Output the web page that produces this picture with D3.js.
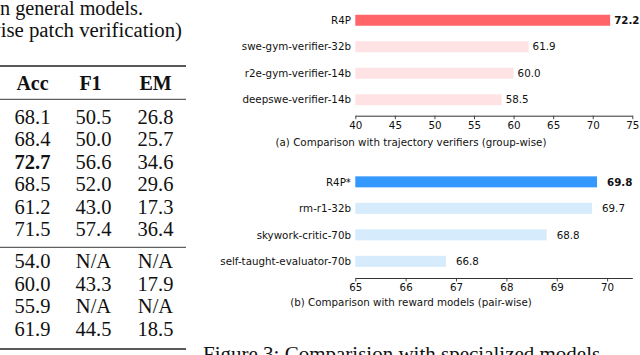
<!DOCTYPE html>
<html>
<head>
<meta charset="utf-8">
<script src="https://cdn.jsdelivr.net/npm/d3@7"></script>
<style>
  body { margin: 0; background: #fff; }
  svg { display: block; }
</style>
</head>
<body>
<div id="chart"></div>
<script>
const width = 640;
const height = 355;

// data
const introLines = ["n general models.", "wise patch verification)"];
const tableHeader = ["Acc", "F1", "EM"];
const tableRowsTop = [
  ["68.1", "50.5", "26.8"],
  ["68.4", "50.0", "25.7"],
  ["72.7", "56.6", "34.6"],
  ["68.5", "52.0", "29.6"],
  ["61.2", "43.0", "17.3"],
  ["71.5", "57.4", "36.4"]
];
const tableRowsBottom = [
  ["54.0", "N/A", "N/A"],
  ["60.0", "43.3", "17.9"],
  ["55.9", "N/A", "N/A"],
  ["61.9", "44.5", "18.5"]
];
const boldCell = "72.7";
const figureCaption = "Figure 3: Comparision with specialized models";

const trajModels = ["R4P", "swe-gym-verifier-32b", "r2e-gym-verifier-14b", "deepswe-verifier-14b"];
const trajScores = [72.2, 61.9, 60.0, 58.5];
const trajTicks = [40, 45, 50, 55, 60, 65, 70, 75];
const trajCaption = "(a) Comparison with trajectory verifiers (group-wise)";

const rewardModels = ["R4P*", "rm-r1-32b", "skywork-critic-70b", "self-taught-evaluator-70b"];
const rewardScores = [69.8, 69.7, 68.8, 66.8];
const rewardTicks = [65, 66, 67, 68, 69, 70];
const rewardCaption = "(b) Comparison with reward models (pair-wise)";

const serif = "'Liberation Serif', 'Times New Roman', serif";
const sans = "'DejaVu Sans', sans-serif";

const svg = d3.select('#chart')
  .append('svg')
  .attr('width', width)
  .attr('height', height);

// ---- left side: the table cut from the paper ----
const table = svg.append("g").attr("class", "table");

table.selectAll(".intro")
  .data(introLines)
  .join("text")
  .attr("class", "intro")
  .attr("x", (d, i) => i === 0 ? 143 : 182)
  .attr("y", (d, i) => 15 + i * 22)
  .attr("text-anchor", "end")
  .style("font-family", serif)
  .style("font-size", (d, i) => i === 0 ? "20.2px" : "20.8px")
  .style("fill", "#111")
  .text(d => d);

const colX = [32.5, 93.5, 155.5];
const headX = [32.5, 90.5, 155.5];

const rules = [
  { y: 66, w: 1.4 },
  { y: 99.3, w: 0.9 },
  { y: 247.3, w: 0.9 },
  { y: 349, w: 1.4 }
];
table.selectAll(".rule")
  .data(rules)
  .join("line")
  .attr("class", "rule")
  .attr("x1", 0)
  .attr("x2", 186)
  .attr("y1", d => d.y)
  .attr("y2", d => d.y)
  .style("stroke", "#222")
  .style("stroke-width", d => d.w);

table.selectAll(".head")
  .data(tableHeader)
  .join("text")
  .attr("class", "head")
  .attr("x", (d, i) => headX[i])
  .attr("y", 90)
  .attr("text-anchor", "middle")
  .style("font-family", serif)
  .style("font-size", "20px")
  .style("font-weight", "bold")
  .style("fill", "#111")
  .text(d => d);

function drawRows(rows, y0) {
  rows.forEach((row, r) => {
    table.selectAll(null)
      .data(row)
      .join("text")
      .attr("x", (d, i) => colX[i])
      .attr("y", y0 + r * 22.5)
      .attr("text-anchor", "middle")
      .style("font-family", serif)
      .style("font-size", "20.5px")
      .style("font-weight", (d, i) => (i === 0 && d === boldCell) ? "bold" : "normal")
      .style("fill", "#111")
      .text(d => d);
  });
}
drawRows(tableRowsTop, 123.5);
drawRows(tableRowsBottom, 268.3);

svg.append("text")
  .attr("x", 203)
  .attr("y", 361)
  .style("font-family", serif)
  .style("font-size", "21px")
  .style("fill", "#111")
  .text(figureCaption);

// ---- right side: two horizontal bar charts ----
function barChart(opts) {
  const g = svg.append("g");

  const x = d3.scaleLinear()
    .domain(opts.domain)
    .range([355.3, 632.3]);

  const y = d3.scaleBand()
    .domain(opts.models)
    .range([opts.top, opts.top + 106])
    .paddingInner(0.585)
    .paddingOuter(0.2925);

  const rows = opts.models.map((m, i) => ({ model: m, score: opts.scores[i], first: i === 0 }));

  g.selectAll(".bar")
    .data(rows)
    .join("rect")
    .attr("class", "bar")
    .attr("x", x(opts.domain[0]))
    .attr("y", d => y(d.model))
    .attr("width", d => x(d.score) - x(opts.domain[0]))
    .attr("height", y.bandwidth())
    .style("fill", d => d.first ? opts.strong : opts.light);

  g.selectAll(".name")
    .data(rows)
    .join("text")
    .attr("class", "name")
    .attr("x", 351)
    .attr("y", d => y(d.model) + y.bandwidth() / 2)
    .attr("dy", "0.36em")
    .attr("text-anchor", "end")
    .style("font-family", sans)
    .style("font-size", "10.3px")
    .style("fill", "#111")
    .text(d => d.model);

  g.selectAll(".val")
    .data(rows)
    .join("text")
    .attr("class", "val")
    .attr("x", d => x(d.score) + opts.labelGap)
    .attr("y", d => y(d.model) + y.bandwidth() / 2)
    .attr("dy", "0.36em")
    .style("font-family", sans)
    .style("font-size", "10.3px")
    .style("font-weight", d => d.first ? "bold" : "normal")
    .style("fill", "#111")
    .text(d => d.score.toFixed(1));

  const axis = d3.axisBottom(x)
    .tickValues(opts.ticks)
    .tickFormat(d3.format("d"))
    .tickSize(3.5)
    .tickSizeOuter(0)
    .tickPadding(2.5);

  const ax = g.append("g")
    .attr("transform", `translate(0, ${opts.axisY})`)
    .call(axis);
  ax.select(".domain").style("stroke", "#333").style("stroke-width", 1);
  ax.selectAll(".tick line").style("stroke", "#333").style("stroke-width", 0.9);
  ax.selectAll(".tick text")
    .style("font-family", sans)
    .style("font-size", "10.3px")
    .style("fill", "#111");

  g.append("text")
    .attr("x", 411)
    .attr("y", opts.captionY)
    .attr("text-anchor", "middle")
    .style("font-family", sans)
    .style("font-size", "10.3px")
    .style("fill", "#111")
    .text(opts.caption);
}

barChart({
  models: trajModels,
  scores: trajScores,
  domain: [40, 75],
  ticks: trajTicks,
  top: 7,
  axisY: 115.7,
  captionY: 146,
  caption: trajCaption,
  strong: "#ff6468",
  light: "#ffe3e4",
  labelGap: 4
});

barChart({
  models: rewardModels,
  scores: rewardScores,
  domain: [65, 70.5],
  ticks: rewardTicks,
  top: 168.6,
  axisY: 278,
  captionY: 306,
  caption: rewardCaption,
  strong: "#3399ff",
  light: "#d6ebfb",
  labelGap: 10
});
</script>
</body>
</html>
